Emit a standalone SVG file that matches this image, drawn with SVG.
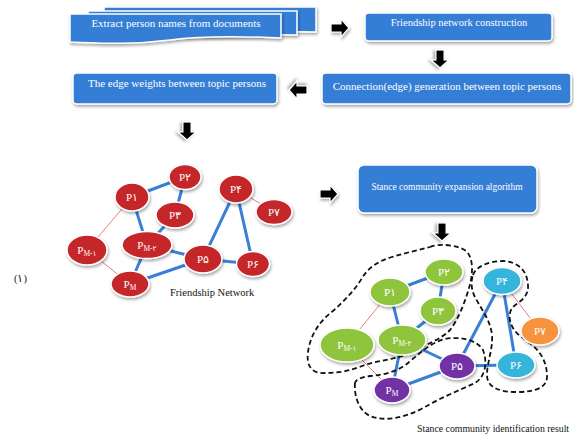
<svg xmlns="http://www.w3.org/2000/svg" xmlns:xlink="http://www.w3.org/1999/xlink" width="574" height="435" viewBox="0 0 574 435">
  <defs>
    <filter id="shadow" x="-20%" y="-20%" width="140%" height="150%">
      <feDropShadow dx="1" dy="2" stdDeviation="1.5" flood-color="#000" flood-opacity="0.35"/>
    </filter>
    <!-- block arrow pointing right, centred on the origin -->
    <path id="arrow" d="M-9,-4 H1 V-9 L9,0 L1,9 V4 H-9 Z"/>
    <style>
      .box { fill: #347ed6; stroke: #fff; stroke-width: 1.5; filter: url(#shadow); }
      .boxtxt { fill: #fff; font-family: "Liberation Serif", "Times New Roman", serif; font-size: 11px; text-anchor: middle; }
      .arr { fill: #000; stroke: #fff; stroke-width: 1.2; filter: url(#shadow); }
      .node { stroke: #fff; stroke-width: 1.5; filter: url(#shadow); }
      .red { fill: #c4282c; }
      .green { fill: #8fc43c; }
      .purple { fill: #7232a6; }
      .cyan { fill: #34b4dc; }
      .orange { fill: #f7923e; }
      .lbl { fill: #fff; font-family: "Liberation Serif", "DejaVu Sans", serif; font-size: 11px; text-anchor: middle; }
      .sub { font-size: 7.5px; }
      .strong { stroke: #3a7fd6; stroke-width: 3; }
      .weak { stroke: #e06060; stroke-width: 0.8; }
      .community { fill: none; stroke: #111; stroke-width: 1.8; stroke-dasharray: 5 3; }
      .caption { fill: #111; font-family: "Liberation Serif", "Times New Roman", serif; font-size: 10.5px; }
    </style>
  </defs>

  <rect width="574" height="435" fill="#fff"/>

  <!-- pipeline steps -->
  <g id="step-extract">
    <path class="box" d="M104,7 H316 V32 C290,31 270,32 250,33 H104 Z"/>
    <path class="box" d="M88,11 H297 V35 C270,34 250,35 230,36 H88 Z"/>
    <path class="box" d="M70,14 H281 V38 C240,36 200,36 170,40 C130,45 100,43 70,42 Z"/>
    <text class="boxtxt" x="176" y="27">Extract person names from  documents</text>
  </g>
  <g id="step-friendship">
    <rect class="box" x="365" y="13" width="187" height="28" rx="4"/>
    <text class="boxtxt" x="459" y="26" style="font-size:10.5px">Friendship network construction</text>
  </g>
  <g id="step-connection">
    <rect class="box" x="322" y="73" width="249" height="31" rx="4"/>
    <text class="boxtxt" x="447" y="90">Connection(edge) generation between topic persons</text>
  </g>
  <g id="step-weights">
    <rect class="box" x="73" y="73" width="204" height="31" rx="4"/>
    <text class="boxtxt" x="177" y="87">The edge weights between topic persons</text>
  </g>
  <g id="step-expansion">
    <rect class="box" x="358" y="165" width="179" height="48" rx="6"/>
    <text class="boxtxt" x="447" y="190" style="font-size:9.5px">Stance community expansion algorithm</text>
  </g>

  <!-- flow arrows between steps -->
  <g id="connectors">
    <use xlink:href="#arrow" class="arr" transform="translate(340,28)"/>
    <use xlink:href="#arrow" class="arr" transform="translate(440,59) rotate(90)"/>
    <use xlink:href="#arrow" class="arr" transform="translate(298,90) rotate(180)"/>
    <use xlink:href="#arrow" class="arr" transform="translate(187,131) rotate(90)"/>
    <use xlink:href="#arrow" class="arr" transform="translate(329,194)"/>
    <use xlink:href="#arrow" class="arr" transform="translate(442,232) rotate(90)"/>

    <!-- friendship network edges -->
    <line class="strong" x1="132" y1="197" x2="185" y2="177"/>
    <line class="strong" x1="185" y1="177" x2="175" y2="215"/>
    <line class="strong" x1="132" y1="197" x2="147" y2="245"/>
    <line class="strong" x1="175" y1="215" x2="147" y2="245"/>
    <line class="strong" x1="147" y1="245" x2="203" y2="259"/>
    <line class="strong" x1="147" y1="245" x2="130" y2="284"/>
    <line class="strong" x1="130" y1="284" x2="203" y2="259"/>
    <line class="strong" x1="203" y1="259" x2="236" y2="189"/>
    <line class="strong" x1="236" y1="189" x2="253" y2="264"/>
    <line class="strong" x1="203" y1="259" x2="253" y2="264"/>
    <line class="weak" x1="132" y1="197" x2="87" y2="250"/>
    <line class="weak" x1="87" y1="250" x2="130" y2="284"/>
    <line class="weak" x1="236" y1="189" x2="274" y2="212"/>

    <!-- community result edges -->
    <line class="strong" x1="390" y1="292" x2="444" y2="272"/>
    <line class="strong" x1="444" y1="272" x2="438" y2="311"/>
    <line class="strong" x1="390" y1="292" x2="402" y2="340"/>
    <line class="strong" x1="438" y1="311" x2="402" y2="340"/>
    <line class="strong" x1="402" y1="340" x2="457" y2="366"/>
    <line class="strong" x1="402" y1="340" x2="392" y2="390"/>
    <line class="strong" x1="392" y1="390" x2="457" y2="366"/>
    <line class="strong" x1="457" y1="366" x2="502" y2="281"/>
    <line class="strong" x1="502" y1="281" x2="516" y2="365"/>
    <line class="strong" x1="457" y1="366" x2="516" y2="365"/>
    <line class="weak" x1="390" y1="292" x2="347" y2="345"/>
    <line class="weak" x1="347" y1="345" x2="392" y2="390"/>
    <line class="weak" x1="502" y1="281" x2="540" y2="331"/>
  </g>

  <!-- friendship network nodes -->
  <g id="f-p2"><ellipse class="node red" cx="185" cy="177" rx="16" ry="12.5"/><text class="lbl" x="185" y="181">P۲</text></g>
  <g id="f-p1"><ellipse class="node red" cx="132" cy="197" rx="17" ry="14"/><text class="lbl" x="132" y="201">P۱</text></g>
  <g id="f-p3"><ellipse class="node red" cx="175" cy="215" rx="19" ry="13"/><text class="lbl" x="175" y="219">P۳</text></g>
  <g id="f-p4"><ellipse class="node red" cx="236" cy="189" rx="17" ry="14"/><text class="lbl" x="236" y="193">P۴</text></g>
  <g id="f-p7"><ellipse class="node red" cx="274" cy="212" rx="18" ry="12.5"/><text class="lbl" x="274" y="216">P۷</text></g>
  <g id="f-pm1"><ellipse class="node red" cx="87" cy="250" rx="20" ry="15"/><text class="lbl" x="87" y="254">P<tspan class="sub" dy="2">M-۱</tspan></text></g>
  <g id="f-pm2"><ellipse class="node red" cx="147" cy="245" rx="25" ry="13.5"/><text class="lbl" x="147" y="249">P<tspan class="sub" dy="2">M-۲</tspan></text></g>
  <g id="f-p5"><ellipse class="node red" cx="203" cy="259" rx="19" ry="14"/><text class="lbl" x="203" y="263">P۵</text></g>
  <g id="f-p6"><ellipse class="node red" cx="253" cy="264" rx="16.5" ry="12.5"/><text class="lbl" x="253" y="268">P۶</text></g>
  <g id="f-pm"><ellipse class="node red" cx="130" cy="284" rx="19" ry="13"/><text class="lbl" x="130" y="288">P<tspan class="sub" dy="2">M</tspan></text></g>
  <text class="caption" x="170" y="296">Friendship Network</text>

  <!-- community outlines -->
  <g id="communities">
    <path class="community" d="M430,247 C440,243 458,245 466,251 C474,258 473,275 469,288 C465,302 458,320 450,330 C440,340 425,345 410,353 C395,360 378,360 362,366 C350,371 338,373 325,373 C312,374 306,366 308,352 C310,337 318,322 333,311 C345,300 355,290 362,278 C368,268 378,261 392,257 C405,253 418,250 430,247 Z"/>
    <path class="community" d="M355,383 C354,395 358,410 370,416 C385,422 405,418 425,407 C440,398 460,390 475,383 C485,377 488,363 483,350 C477,340 460,336 445,339 C430,343 420,353 408,363 C398,371 385,375 370,376 C362,377 356,379 355,383 Z"/>
    <path class="community" d="M473,275 C476,266 490,261 503,261 C518,262 527,270 528,285 C529,298 518,302 512,308 C507,316 510,328 520,336 C535,346 546,355 547,375 C548,388 535,392 517,392 C500,392 487,388 487,375 C487,362 493,350 492,335 C490,318 480,308 474,295 C471,288 471,281 473,275 Z"/>
  </g>

  <!-- community result nodes -->
  <g id="c-p2"><ellipse class="node green" cx="444" cy="272" rx="19" ry="13"/><text class="lbl" x="444" y="276">P۲</text></g>
  <g id="c-p1"><ellipse class="node green" cx="390" cy="292" rx="20" ry="14"/><text class="lbl" x="390" y="296">P۱</text></g>
  <g id="c-p3"><ellipse class="node green" cx="438" cy="311" rx="18" ry="14"/><text class="lbl" x="438" y="315">P۳</text></g>
  <g id="c-pm1"><ellipse class="node green" cx="347" cy="345" rx="27" ry="17"/><text class="lbl" x="347" y="349">P<tspan class="sub" dy="2">M-۱</tspan></text></g>
  <g id="c-pm2"><ellipse class="node green" cx="402" cy="340" rx="24" ry="15"/><text class="lbl" x="402" y="344">P<tspan class="sub" dy="2">M-۲</tspan></text></g>
  <g id="c-p5"><ellipse class="node purple" cx="457" cy="366" rx="18" ry="13"/><text class="lbl" x="457" y="370">P۵</text></g>
  <g id="c-pm"><ellipse class="node purple" cx="392" cy="390" rx="18" ry="13"/><text class="lbl" x="392" y="394">P<tspan class="sub" dy="2">M</tspan></text></g>
  <g id="c-p4"><ellipse class="node cyan" cx="502" cy="281" rx="19" ry="13.5"/><text class="lbl" x="502" y="285">P۴</text></g>
  <g id="c-p6"><ellipse class="node cyan" cx="516" cy="365" rx="19" ry="13"/><text class="lbl" x="516" y="369">P۶</text></g>
  <g id="c-p7"><ellipse class="node orange" cx="540" cy="331" rx="19" ry="14"/><text class="lbl" x="540" y="335">P۷</text></g>

  <text class="caption" x="417" y="432" style="font-size:9.8px">Stance community identification result</text>
  <text class="caption" x="14" y="282">(۱)</text>
</svg>
